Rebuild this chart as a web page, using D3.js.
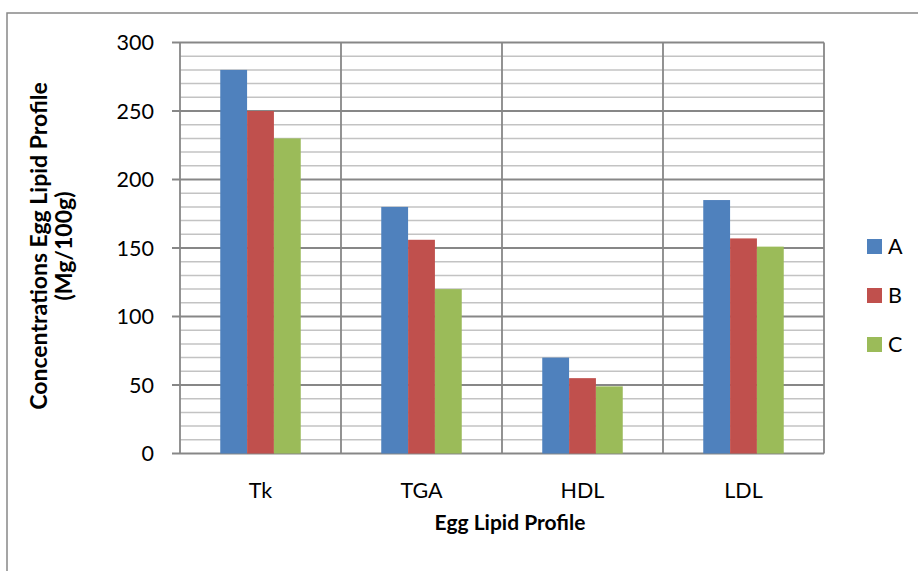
<!DOCTYPE html>
<html>
<head>
<meta charset="utf-8">
<style>
  body { margin: 0; background: #fff; }
  text { font-family: Lato, "Noto Sans", sans-serif; fill: #000; }
</style>
</head>
<body>
<script src="https://d3js.org/d3.v7.min.js"></script>
<script>
const categories = ['Tk', 'TGA', 'HDL', 'LDL']
const seriesNames = ['A', 'B', 'C']
const valuesA = [280, 180, 70, 185]
const valuesB = [250, 156, 55, 157]
const valuesC = [230, 120, 49, 151]
const yTicks = [0, 50, 100, 150, 200, 250, 300]
const colors = ['#4F81BD', '#C0504D', '#9BBB59']

const w = 918, h = 571
const plotLeft = 180, plotRight = 824, plotTop = 42.5, plotBottom = 453.5

const svg = d3.select('body').append('svg')
  .attr('width', w).attr('height', h)

// outer chart border
svg.append('rect')
  .attr('x', 7).attr('y', 13)
  .attr('width', 930).attr('height', 600)
  .attr('fill', 'none').attr('stroke', '#888').attr('stroke-width', 1.5)

const x = d3.scaleBand().domain(categories).range([plotLeft, plotRight])
const xInner = d3.scaleBand().domain(seriesNames)
  .range([0, x.bandwidth()]).paddingInner(0).paddingOuter(1.5)
const y = d3.scaleLinear().domain([0, 300]).range([plotBottom, plotTop])

// minor gridlines
svg.append('g').selectAll('line')
  .data(d3.range(0, 301, 10).filter(v => v % 50 !== 0))
  .enter().append('line')
  .attr('x1', plotLeft).attr('x2', plotRight)
  .attr('y1', d => y(d)).attr('y2', d => y(d))
  .attr('stroke', '#c3c3c3').attr('stroke-width', 1.5)

// major gridlines
svg.append('g').selectAll('line')
  .data(yTicks)
  .enter().append('line')
  .attr('x1', plotLeft - 8).attr('x2', plotRight)
  .attr('y1', d => y(d)).attr('y2', d => y(d))
  .attr('stroke', '#878787').attr('stroke-width', 1.8)

// vertical category dividers
const bounds = categories.map(c => x(c)).concat([plotRight])
svg.append('g').selectAll('line')
  .data(bounds)
  .enter().append('line')
  .attr('x1', d => d).attr('x2', d => d)
  .attr('y1', plotTop).attr('y2', plotBottom)
  .attr('stroke', '#878787').attr('stroke-width', 1.8)

const rows = categories.map((c, i) => ({cat: c, vals: [valuesA[i], valuesB[i], valuesC[i]]}))

svg.append('g').selectAll('g')
  .data(rows)
  .enter().append('g')
  .attr('transform', d => 'translate(' + x(d.cat) + ',0)')
  .selectAll('rect')
  .data(d => d.vals.map((v, i) => ({s: seriesNames[i], v: v, i: i})))
  .enter().append('rect')
  .attr('x', d => xInner(d.s))
  .attr('y', d => y(d.v))
  .attr('width', xInner.bandwidth())
  .attr('height', d => plotBottom - y(d.v))
  .attr('fill', d => colors[d.i])

// y-axis tick labels
svg.append('g').selectAll('text')
  .data(yTicks)
  .enter().append('text')
  .attr('x', 154).attr('y', d => y(d) + 7.5)
  .attr('text-anchor', 'end')
  .style('font-size', '21.5px')
  .text(d => d)

// x-axis labels
svg.append('g').selectAll('text')
  .data(categories)
  .enter().append('text')
  .attr('x', d => x(d) + x.bandwidth() / 2).attr('y', 498)
  .attr('text-anchor', 'middle')
  .style('font-size', '21.5px')
  .text(d => d)

svg.append('text')
  .attr('x', 510).attr('y', 530)
  .attr('text-anchor', 'middle')
  .style('font-size', '21px').style('font-weight', 'bold')
  .text('Egg Lipid Profile')

const yt = svg.append('text')
  .attr('transform', 'translate(0,246) rotate(-90)')
  .attr('text-anchor', 'middle')
  .style('font-size', '23px').style('font-weight', 'bold')
yt.append('tspan').attr('x', 0).attr('y', 47).text('Concentrations Egg Lipid Profile')
yt.append('tspan').attr('x', 0).attr('y', 72).text('(Mg/100g)')

// legend
const legend = svg.append('g').selectAll('g')
  .data(seriesNames)
  .enter().append('g')
  .attr('transform', (d, i) => 'translate(867,' + (239 + i * 49) + ')')
legend.append('rect')
  .attr('width', 15).attr('height', 15)
  .attr('fill', (d, i) => colors[i])
legend.append('text')
  .attr('x', 21).attr('y', 15)
  .style('font-size', '21.5px')
  .text(d => d)
</script>
</body>
</html>
